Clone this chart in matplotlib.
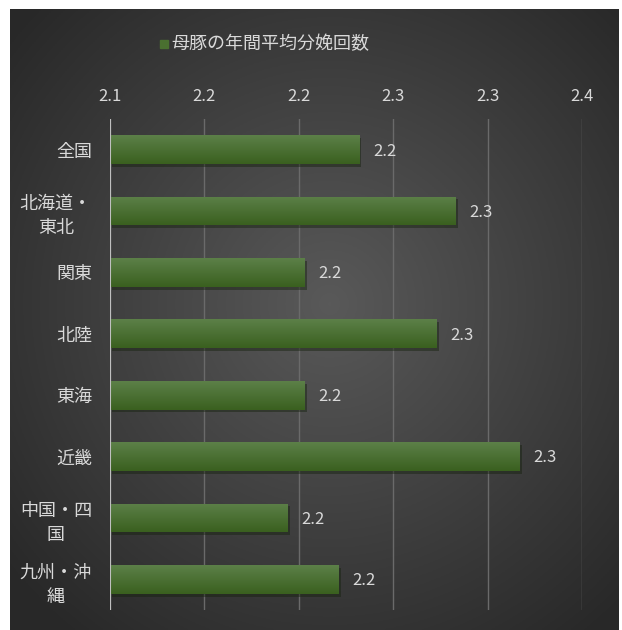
import numpy as np
import matplotlib
matplotlib.use('Agg')
import matplotlib.pyplot as plt
import matplotlib.patheffects as pe
from matplotlib.patches import Rectangle

plt.rcParams['font.family'] = ['Noto Sans CJK JP', 'DejaVu Sans']

# data
regions = ['全国', '北海道・\n東北', '関東', '北陸', '東海', '近畿', '中国・四\n国', '九州・沖\n縄']
values = [2.232, 2.283, 2.203, 2.273, 2.203, 2.317, 2.194, 2.221]
ticks = [2.10, 2.15, 2.20, 2.25, 2.30, 2.35]
tick_labels = ['2.1', '2.2', '2.2', '2.3', '2.3', '2.4']
series_name = '母豚の年間平均分娩回数'

txt = '#d9d9d9'
W, H = 622, 630
fig = plt.figure(figsize=(W / 100, H / 100), dpi=100)
fig.patch.set_facecolor('white')

# dark radial background
bg = fig.add_axes([10 / W, 0, 609 / W, 621 / H])
bg.set_axis_off()
gx, gy = np.meshgrid(np.linspace(-1, 1, 300), np.linspace(-1, 1, 300))
r = np.clip(np.sqrt((gx - 0.05) ** 2 + (gy + 0.05) ** 2) / 1.35, 0, 1)
shade = 0.35 - 0.19 * r
bg.imshow(np.dstack([shade, shade, shade]), aspect='auto', extent=[0, 1, 0, 1])
bg.set_xlim(0, 1)
bg.set_ylim(0, 1)

ax = fig.add_axes([110 / W, 20 / H, 472 / W, 491 / H])
ax.patch.set_alpha(0)

n = len(regions)
y = np.arange(n)[::-1]
h = 0.47
bars = ax.barh(y, [v - ticks[0] for v in values], left=ticks[0], height=h,
               color='#4a7030', zorder=3)

grad = np.linspace(0, 1, 50).reshape(-1, 1)
dark = np.array([0x3a, 0x60, 0x1f]) / 255
light = np.array([0x5c, 0x80, 0x48]) / 255
gimg = dark + (light - dark) * grad[..., None]
for b in bars:
    b.set_path_effects([pe.SimplePatchShadow(offset=(1.5, -2), alpha=0.45), pe.Normal()])
    x0, y0 = b.get_x(), b.get_y()
    im = ax.imshow(gimg, aspect='auto', origin='lower', zorder=4,
                   extent=[x0, x0 + b.get_width(), y0, y0 + b.get_height()])
    im.set_clip_path(b)

for yi, v in zip(y, values):
    ax.annotate(f'{v:.1f}', (v, yi), xytext=(10, -1), textcoords='offset points',
                va='center', ha='left', color=txt, fontsize=12, zorder=5)

ax.set_xlim(ticks[0], ticks[-1])
ax.set_ylim(-0.5, n - 0.5)
ax.xaxis.tick_top()
ax.set_xticks(ticks)
ax.set_xticklabels(tick_labels)
ax.set_yticks(y)
ax.set_yticklabels(regions, multialignment='center', linespacing=1.45)
ax.tick_params(axis='x', length=0, pad=10, colors=txt, labelsize=12)
ax.tick_params(axis='y', length=0, pad=13, colors=txt, labelsize=13)
ax.grid(axis='x', color='#6a6a6a', linewidth=1, zorder=0)
for s in ax.spines.values():
    s.set_visible(False)
ax.axvline(ticks[0], color='#bfbfbf', linewidth=1.5, zorder=6)

# legend
fig.patches.append(Rectangle((160 / W, 1 - 48 / H), 8 / W, 8 / H,
                             transform=fig.transFigure, color='#4a7030'))
fig.text(171 / W, 1 - 44 / H, series_name, color=txt, fontsize=13,
         va='center', ha='left')

fig.savefig('out.png', dpi=100, facecolor='white')
